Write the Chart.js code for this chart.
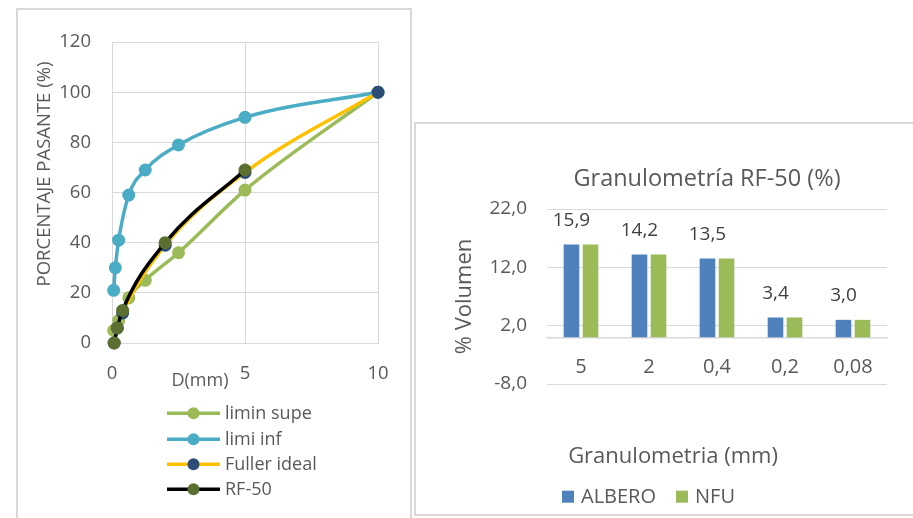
<!DOCTYPE html>
<html lang="es">
<head>
<meta charset="utf-8">
<title>Granulometría RF-50</title>
<script src="https://cdn.jsdelivr.net/npm/chart.js@4.4.1/dist/chart.umd.min.js"></script>
<style>
  html, body { margin: 0; padding: 0; background: #fff; width: 913px; height: 518px; overflow: hidden; }
  .caja { position: absolute; border: 2px solid #d9d9d9; background: #fff; overflow: hidden; }
  #cajaCurvas { left: 16px; top: 8px; width: 392px; height: 520px; }
  #cajaBarras { left: 414px; top: 122px; width: 600px; height: 390px; }
  canvas { display: block; }
</style>
</head>
<body>
<div id="cajaCurvas" class="caja"><canvas id="curvas" width="392" height="520"></canvas></div>
<div id="cajaBarras" class="caja"><canvas id="barras" width="582" height="390"></canvas></div>

<script>
// ---- Curvas granulométricas (tamiz en mm, % que pasa) ----
const tamizLiminSupe = [0.063, 0.25, 0.63, 1.25, 2.5, 5, 10];
const pasaLiminSupe  = [5, 9, 18, 25, 36, 61, 100];
const tamizLimiInf   = [0.063, 0.125, 0.25, 0.63, 1.25, 2.5, 5, 10];
const pasaLimiInf    = [21, 30, 41, 59, 69, 79, 90, 100];
const tamizFuller    = [0.08, 0.2, 0.4, 2, 5, 10];
const pasaFuller     = [0, 6, 12, 39, 68, 100];
const tamizRF50      = [0.08, 0.2, 0.4, 2, 5];
const pasaRF50       = [0, 6, 13, 40, 69];

// ---- Granulometría RF-50 (% en volumen por fracción) ----
const fracciones = ['5', '2', '0,4', '0,2', '0,08'];
const volAlbero  = [15.9, 14.2, 13.5, 3.4, 3.0];
const volNFU     = [15.9, 14.2, 13.5, 3.4, 3.0];

const FUENTE = "'Open Sans', sans-serif";
const TEXTO = '#595959';
const REJILLA = '#d9d9d9';

const coma = (v, dec) => Number(v).toFixed(dec).replace('.', ',');
const pares = (xs, ys) => xs.map((x, i) => ({ x: x, y: ys[i] }));

function serie(label, xs, ys, linea, marca, orden) {
  return {
    label: label,
    data: pares(xs, ys),
    borderColor: linea,
    backgroundColor: marca,
    pointBackgroundColor: marca,
    pointBorderColor: marca,
    pointBorderWidth: 0,
    pointRadius: 6.5,
    pointHoverRadius: 6.5,
    borderWidth: 3.5,
    cubicInterpolationMode: 'monotone',
    fill: false,
    clip: false,
    order: orden
  };
}

// Títulos de ejes y leyenda de la gráfica de curvas
const decoracionCurvas = {
  id: 'decoracionCurvas',
  afterDraw(chart) {
    const ctx = chart.ctx;
    ctx.save();
    ctx.fillStyle = TEXTO;
    ctx.textBaseline = 'middle';

    // título eje Y
    ctx.save();
    ctx.translate(27, 164);
    ctx.rotate(-Math.PI / 2);
    ctx.textAlign = 'center';
    ctx.font = '18.5px ' + FUENTE;
    ctx.fillText('PORCENTAJE PASANTE (%)', 0, 0);
    ctx.restore();

    // título eje X
    ctx.textAlign = 'center';
    ctx.font = '18px ' + FUENTE;
    ctx.fillText('D(mm)', 182, 371);

    // leyenda
    const filas = [403.3, 429.3, 454.3, 479.3];
    chart.data.datasets.forEach((ds, i) => {
      const y = filas[i];
      ctx.strokeStyle = ds.borderColor;
      ctx.lineWidth = 3.5;
      ctx.beginPath();
      ctx.moveTo(149, y);
      ctx.lineTo(202, y);
      ctx.stroke();
      ctx.fillStyle = ds.pointBackgroundColor;
      ctx.beginPath();
      ctx.arc(175.5, y, 6, 0, Math.PI * 2);
      ctx.fill();
      ctx.fillStyle = TEXTO;
      ctx.textAlign = 'left';
      ctx.font = '18px ' + FUENTE;
      ctx.fillText(ds.label, 207, y + 1);
    });
    ctx.restore();
  }
};

new Chart(document.getElementById('curvas'), {
  type: 'line',
  data: {
    datasets: [
      serie('limin supe', tamizLiminSupe, pasaLiminSupe, '#9bbb59', '#9bbb59', 4),
      serie('limi inf', tamizLimiInf, pasaLimiInf, '#4bacc6', '#4bacc6', 3),
      serie('Fuller ideal', tamizFuller, pasaFuller, '#ffc000', '#2c4d75', 2),
      serie('RF-50', tamizRF50, pasaRF50, '#000000', '#5b7030', 1)
    ]
  },
  options: {
    responsive: false,
    animation: false,
    events: [],
    layout: { padding: { left: 0, top: 30, right: 32, bottom: 147 } },
    plugins: { legend: { display: false }, tooltip: { enabled: false } },
    scales: {
      x: {
        type: 'linear', min: 0, max: 10,
        ticks: { stepSize: 5, color: TEXTO, font: { family: FUENTE, size: 18.5 }, padding: 20 },
        grid: { color: REJILLA, drawTicks: false },
        border: { color: REJILLA },
        afterFit: s => { s.height = 40; }
      },
      y: {
        type: 'linear', min: 0, max: 120,
        ticks: { stepSize: 20, color: TEXTO, font: { family: FUENTE, size: 18.5 }, padding: 21 },
        grid: { color: REJILLA, drawTicks: false },
        border: { color: REJILLA },
        afterFit: s => { s.width = 94; }
      }
    }
  },
  plugins: [decoracionCurvas]
});

// Título, etiquetas de valor, título del eje X y leyenda de la gráfica de barras
const decoracionBarras = {
  id: 'decoracionBarras',
  afterDatasetsDraw(chart) {
    const ctx = chart.ctx;
    const meta = chart.getDatasetMeta(0);
    ctx.save();
    ctx.fillStyle = '#404040';
    ctx.font = '19px ' + FUENTE;
    ctx.textAlign = 'center';
    ctx.textBaseline = 'middle';
    meta.data.forEach((barra, i) => {
      ctx.fillText(coma(chart.data.datasets[0].data[i], 1), barra.x, barra.y - 24);
    });
    ctx.restore();
  },
  afterDraw(chart) {
    const ctx = chart.ctx;
    ctx.save();
    ctx.fillStyle = TEXTO;
    ctx.textBaseline = 'middle';
    ctx.textAlign = 'center';
    ctx.font = '23.5px ' + FUENTE;
    ctx.fillText('Granulometría RF-50 (%)', 291, 55);

    ctx.font = '22px ' + FUENTE;
    ctx.fillText('Granulometria (mm)', 257, 333);

    ctx.textAlign = 'left';
    ctx.font = '20px ' + FUENTE;
    let x = 146;
    const y = 372.7;
    chart.data.datasets.forEach(ds => {
      ctx.fillStyle = ds.backgroundColor;
      ctx.fillRect(x, y - 6, 12, 12);
      ctx.fillStyle = TEXTO;
      ctx.fillText(ds.label, x + 19, y + 1);
      x += 19 + ctx.measureText(ds.label).width + 20;
    });
    ctx.restore();
  }
};

new Chart(document.getElementById('barras'), {
  type: 'bar',
  data: {
    labels: fracciones,
    datasets: [
      { label: 'ALBERO', data: volAlbero, backgroundColor: '#4f81bd', categoryPercentage: 0.56, barPercentage: 0.82 },
      { label: 'NFU', data: volNFU, backgroundColor: '#9bbb59', categoryPercentage: 0.56, barPercentage: 0.82 }
    ]
  },
  options: {
    responsive: false,
    animation: false,
    events: [],
    layout: { padding: { left: 0, top: 85, right: 111, bottom: 130 } },
    plugins: {
      legend: { display: false },
      tooltip: { enabled: false }
    },
    scales: {
      x: {
        type: 'category',
        position: { y: 0 },
        grid: { display: true, drawOnChartArea: false, drawTicks: false },
        border: { color: REJILLA, width: 1.5 },
        ticks: { color: TEXTO, font: { family: FUENTE, size: 20 }, padding: 17.5 }
      },
      y: {
        min: -8, max: 22,
        ticks: { stepSize: 10, color: TEXTO, font: { family: FUENTE, size: 19 }, padding: 20, callback: v => coma(v, 1) },
        grid: { color: REJILLA, drawTicks: false },
        border: { display: false },
        title: { display: true, text: '% Volumen', color: TEXTO, font: { family: FUENTE, size: 22 }, padding: { top: 36, bottom: 0 } },
        afterFit: s => { s.width = 131; }
      }
    }
  },
  plugins: [decoracionBarras]
});
</script>
</body>
</html>
